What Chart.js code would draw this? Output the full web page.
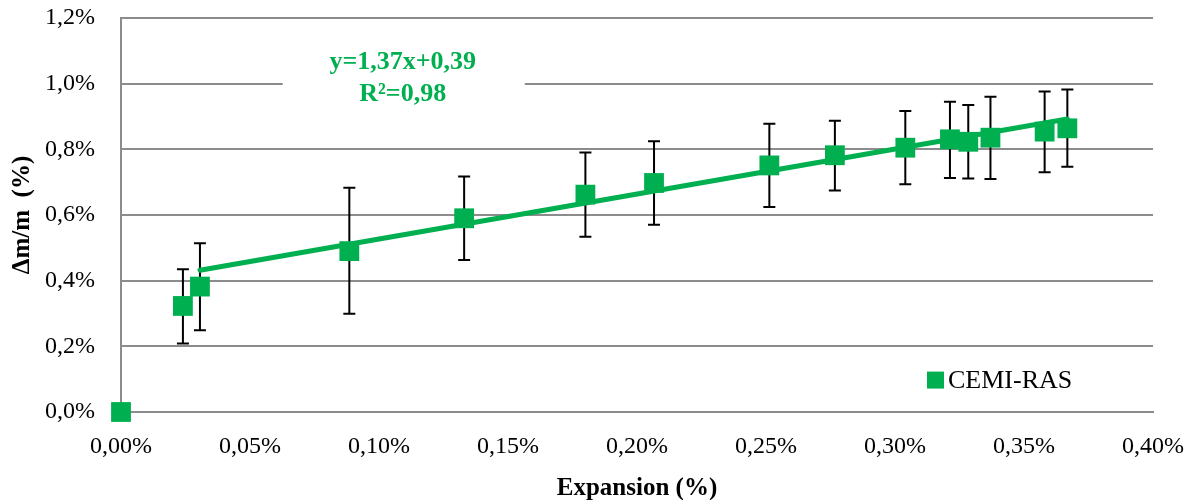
<!DOCTYPE html>
<html>
<head>
<meta charset="utf-8">
<script src="https://cdn.jsdelivr.net/npm/chart.js@4"></script>
<style>
  html, body { margin: 0; padding: 0; background: #fff; }
  #wrap { width: 1195px; height: 500px; }
</style>
</head>
<body>
<div id="wrap"><canvas id="chart"></canvas></div>
<script>
// data (values in %)
const seriesName = 'CEMI-RAS';
const expansion = [0, 0.024, 0.0306, 0.0885, 0.133, 0.180, 0.2066, 0.2513, 0.2767, 0.304, 0.3213, 0.3284, 0.337, 0.358, 0.3668];
const massChange = [0, 0.323, 0.382, 0.490, 0.590, 0.662, 0.6975, 0.751, 0.782, 0.805, 0.8305, 0.823, 0.8355, 0.854, 0.864];
const errorHigh = [0, 0.435, 0.514, 0.683, 0.717, 0.790, 0.825, 0.878, 0.887, 0.917, 0.945, 0.935, 0.960, 0.976, 0.982];
const errorLow = [0, 0.209, 0.249, 0.299, 0.463, 0.534, 0.570, 0.624, 0.675, 0.694, 0.713, 0.711, 0.710, 0.730, 0.747];
const xTicks = [0, 0.05, 0.10, 0.15, 0.20, 0.25, 0.30, 0.35, 0.40];
const yTicks = [0, 0.2, 0.4, 0.6, 0.8, 1.0, 1.2];
const trendSlope = 1.37;
const trendIntercept = 0.39;
const trendStart = 2; // fit starts at the third point
const equationLines = ['y=1,37x+0,39', 'R²=0,98'];

const GREEN = '#00B050';
const GRID = '#8C8C8C';
const SERIF = "'Liberation Serif', 'Times New Roman', serif";

const points = expansion.map((x, i) => ({ x: x, y: massChange[i] }));
const trendX = [expansion[trendStart], expansion[expansion.length - 1]];
const trendPoints = trendX.map(x => ({ x: x, y: trendSlope * x + trendIntercept }));

const comma = (v, d) => v.toFixed(d).replace('.', ',') + '%';

// error bars, drawn under the markers
const errorBars = {
    id: 'errorBars',
    beforeDatasetsDraw(chart) {
        const { ctx, scales: { x, y } } = chart;
        ctx.save();
        ctx.strokeStyle = '#000';
        ctx.lineWidth = 2;
        expansion.forEach((v, i) => {
            if (errorHigh[i] === errorLow[i]) return;
            const px = x.getPixelForValue(v);
            const top = y.getPixelForValue(errorHigh[i]);
            const bot = y.getPixelForValue(errorLow[i]);
            ctx.beginPath();
            ctx.moveTo(px, top); ctx.lineTo(px, bot);
            ctx.moveTo(px - 6, top); ctx.lineTo(px + 6, top);
            ctx.moveTo(px - 6, bot); ctx.lineTo(px + 6, bot);
            ctx.stroke();
        });
        ctx.restore();
    }
};

// trendline equation with its white box, and the legend inside the plot
const labels = {
    id: 'labels',
    beforeDatasetsDraw(chart) {
        const { ctx, chartArea: a } = chart;
        const cx = a.left + (a.right - a.left) * 0.273;
        ctx.save();
        ctx.fillStyle = '#fff';
        ctx.fillRect(cx - 120, a.top + 24, 242, 78);
        ctx.fillStyle = GREEN;
        ctx.font = 'bold 26px ' + SERIF;
        ctx.textAlign = 'center';
        ctx.textBaseline = 'middle';
        ctx.fillText(equationLines[0], cx, a.top + 44);
        ctx.fillText(equationLines[1], cx, a.top + 76);
        ctx.restore();
    },
    afterDraw(chart) {
        const { ctx, chartArea: a } = chart;
        const lx = a.left + (a.right - a.left) * 0.781;
        const ly = a.top + (a.bottom - a.top) * 0.919;
        ctx.save();
        ctx.fillStyle = GREEN;
        ctx.fillRect(lx, ly - 8.5, 17, 17);
        ctx.fillStyle = '#000';
        ctx.font = '26px ' + SERIF;
        ctx.textBaseline = 'middle';
        ctx.fillText(seriesName, lx + 21, ly + 1);
        ctx.restore();
    }
};

new Chart(document.getElementById('chart'), {
    type: 'scatter',
    data: {
        datasets: [{
            label: seriesName,
            data: points,
            pointStyle: 'rect',
            pointRadius: 14,
            pointHoverRadius: 14,
            backgroundColor: GREEN,
            borderColor: GREEN,
            borderWidth: 0,
            clip: false,
            order: 1
        }, {
            type: 'line',
            label: 'trend',
            data: trendPoints,
            borderColor: GREEN,
            borderWidth: 5,
            borderCapStyle: 'round',
            pointRadius: 0,
            fill: false,
            order: 0
        }]
    },
    options: {
        responsive: true,
        maintainAspectRatio: false,
        animation: false,
        layout: { padding: { top: 18, right: 42, left: 0, bottom: 0 } },
        plugins: {
            legend: { display: false },
            tooltip: { enabled: false }
        },
        scales: {
            x: {
                type: 'linear',
                min: 0,
                max: 0.4,
                afterBuildTicks: s => { s.ticks = xTicks.map(v => ({ value: v })); },
                afterFit: s => { s.height = 88; s.paddingLeft = 0; s.paddingRight = 0; },
                grid: { display: false, drawTicks: false },
                border: { display: true, color: GRID, width: 2 },
                ticks: {
                    padding: 20,
                    color: '#000',
                    font: { family: SERIF, size: 24 },
                    callback: v => comma(v, 2)
                },
                title: {
                    display: true,
                    text: 'Expansion (%)',
                    color: '#000',
                    font: { family: SERIF, size: 25, weight: 'bold' },
                    padding: { top: 0, bottom: -4 }
                }
            },
            y: {
                min: 0,
                max: 1.2,
                afterBuildTicks: s => { s.ticks = yTicks.map(v => ({ value: v })); },
                afterFit: s => { s.width = 121; s.paddingTop = 0; s.paddingBottom = 0; },
                grid: { color: GRID, lineWidth: 2, drawTicks: false },
                border: { display: true, color: GRID, width: 2 },
                ticks: {
                    padding: 26,
                    color: '#000',
                    font: { family: SERIF, size: 24 },
                    callback: v => comma(v, 1)
                },
                title: {
                    display: true,
                    text: 'Δm/m  (%)',
                    color: '#000',
                    font: { family: SERIF, size: 25, weight: 'bold' },
                    padding: { top: 8, bottom: 0 }
                }
            }
        }
    },
    plugins: [errorBars, labels]
});
</script>
</body>
</html>
